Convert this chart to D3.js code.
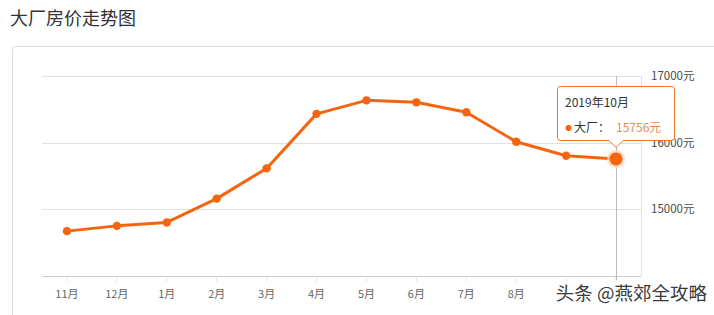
<!DOCTYPE html>
<html>
<head>
<meta charset="utf-8">
<script src="https://cdn.jsdelivr.net/npm/d3@7"></script>
<style>
  body { margin: 0; background: #fff; }
  svg { display: block; font-family: "Noto Sans CJK SC", "Noto Sans", sans-serif; }
</style>
</head>
<body>
<svg id="chart"></svg>
<script>
// data
const months = ['11月', '12月', '1月', '2月', '3月', '4月', '5月', '6月', '7月', '8月', '9月', '10月'];
const prices = [14673, 14752, 14803, 15161, 15614, 16432, 16635, 16605, 16456, 16013, 15804, 15756];
const yTicks = [14000, 15000, 16000, 17000];
const hiddenLabels = ['9月', '10月']; // sit under the watermark in the original
const tipMonth = '2019年10月';
const seriesName = '大厂';

const W = 714, H = 315;
const orange = '#f5650f';
const svg = d3.select('#chart').attr('width', W).attr('height', H);

// title + card
svg.append('text').attr('x', 10).attr('y', 25)
    .attr('font-size', 18).attr('fill', '#333').text('大厂房价走势图');
svg.append('rect').attr('x', 12.5).attr('y', 46.5).attr('width', 720).attr('height', 300)
    .attr('rx', 3).attr('fill', 'none').attr('stroke', '#ddd');

let plot = {left: 42, right: 641, top: 76, bottom: 276};

let x = d3.scaleBand().domain(months).range([plot.left, plot.right]);
let y = d3.scaleLinear().domain([14000, 17000]).range([plot.bottom, plot.top]);
let cx = d => x(d) + x.bandwidth() / 2;

// grid lines
svg.append('g').selectAll('line').data(yTicks.slice(1)).enter().append('line')
    .attr('x1', plot.left).attr('x2', plot.right)
    .attr('y1', d => Math.round(y(d)) + 0.5).attr('y2', d => Math.round(y(d)) + 0.5)
    .attr('stroke', '#e0e0e0');
svg.append('line').attr('x1', plot.right + 0.5).attr('x2', plot.right + 0.5)
    .attr('y1', plot.top).attr('y2', plot.bottom).attr('stroke', '#e0e0e0');

// y labels on the right, lowest one hidden
svg.append('g').selectAll('text').data(yTicks.slice(1)).enter().append('text')
    .attr('x', 651).attr('y', d => y(d) + 4)
    .attr('font-size', 11.5).attr('fill', '#4a4a4a').text(d => d + '元');

// x axis
let xAxis = svg.append('g').attr('transform', 'translate(0,' + (plot.bottom + 0.5) + ')')
    .call(d3.axisBottom(x).tickSize(5).tickPadding(9));
xAxis.select('.domain').attr('stroke', '#ccc').attr('d', 'M' + plot.left + ',0H' + plot.right);
xAxis.selectAll('.tick line').attr('stroke', '#e3e3e3');
xAxis.selectAll('.tick text').attr('font-size', 11).attr('fill', '#666')
    .attr('font-family', '"Noto Sans CJK SC", sans-serif');
xAxis.selectAll('.tick text').filter(d => hiddenLabels.includes(d)).remove();

// crosshair on the last month
let last = months.length - 1;
svg.append('line').attr('x1', cx(months[last]) + 0.5).attr('x2', cx(months[last]) + 0.5)
    .attr('y1', plot.top).attr('y2', plot.bottom + 4).attr('stroke', '#bbb');

// line + points
let line = d3.line().x((d, i) => cx(months[i])).y(d => y(d));
svg.append('path').datum(prices).attr('d', line)
    .attr('fill', 'none').attr('stroke', orange).attr('stroke-width', 3)
    .attr('stroke-linejoin', 'round');
svg.append('g').selectAll('circle').data(prices.slice(0, last)).enter().append('circle')
    .attr('cx', (d, i) => cx(months[i])).attr('cy', d => y(d)).attr('r', 4.2)
    .attr('fill', orange);
svg.append('circle').attr('cx', cx(months[last])).attr('cy', y(prices[last])).attr('r', 9)
    .attr('fill', '#fbd3b8').attr('opacity', 0.8);
svg.append('circle').attr('cx', cx(months[last])).attr('cy', y(prices[last])).attr('r', 6.5)
    .attr('fill', orange);

// tooltip
let tx = cx(months[last]);
let tip = svg.append('g');
let bx = 557.5, by = 86.5, bw = 117, bh = 54;
tip.append('path')
    .attr('d', 'M' + (bx + 3) + ',' + by + 'H' + (bx + bw - 3) + 'Q' + (bx + bw) + ',' + by + ' ' + (bx + bw) + ',' + (by + 3)
        + 'V' + (by + bh - 3) + 'Q' + (bx + bw) + ',' + (by + bh) + ' ' + (bx + bw - 3) + ',' + (by + bh)
        + 'H' + (tx + 7) + 'L' + tx + ',' + (by + bh + 7) + 'L' + (tx - 7) + ',' + (by + bh)
        + 'H' + (bx + 3) + 'Q' + bx + ',' + (by + bh) + ' ' + bx + ',' + (by + bh - 3)
        + 'V' + (by + 3) + 'Q' + bx + ',' + by + ' ' + (bx + 3) + ',' + by + 'Z')
    .attr('fill', '#fff').attr('fill-opacity', 0.95).attr('stroke', '#e8772e');
tip.append('text').attr('x', 565).attr('y', 107).attr('font-size', 12).attr('fill', '#333').text(tipMonth);
tip.append('circle').attr('cx', 568.5).attr('cy', 128).attr('r', 3).attr('fill', orange);
tip.append('text').attr('x', 574).attr('y', 132).attr('font-size', 12).attr('fill', '#333').text(seriesName + '：');
tip.append('text').attr('x', 616).attr('y', 132).attr('font-size', 12).attr('fill', '#ec8a4c')
    .text(prices[last] + '元');

// watermark
svg.append('text').attr('x', 707).attr('y', 300).attr('text-anchor', 'end')
    .attr('font-size', 18.5).attr('fill', '#3a3a3a')
    .attr('stroke', '#fff').attr('stroke-width', 4).attr('paint-order', 'stroke')
    .text('头条 @燕郊全攻略');
</script>
</body>
</html>
